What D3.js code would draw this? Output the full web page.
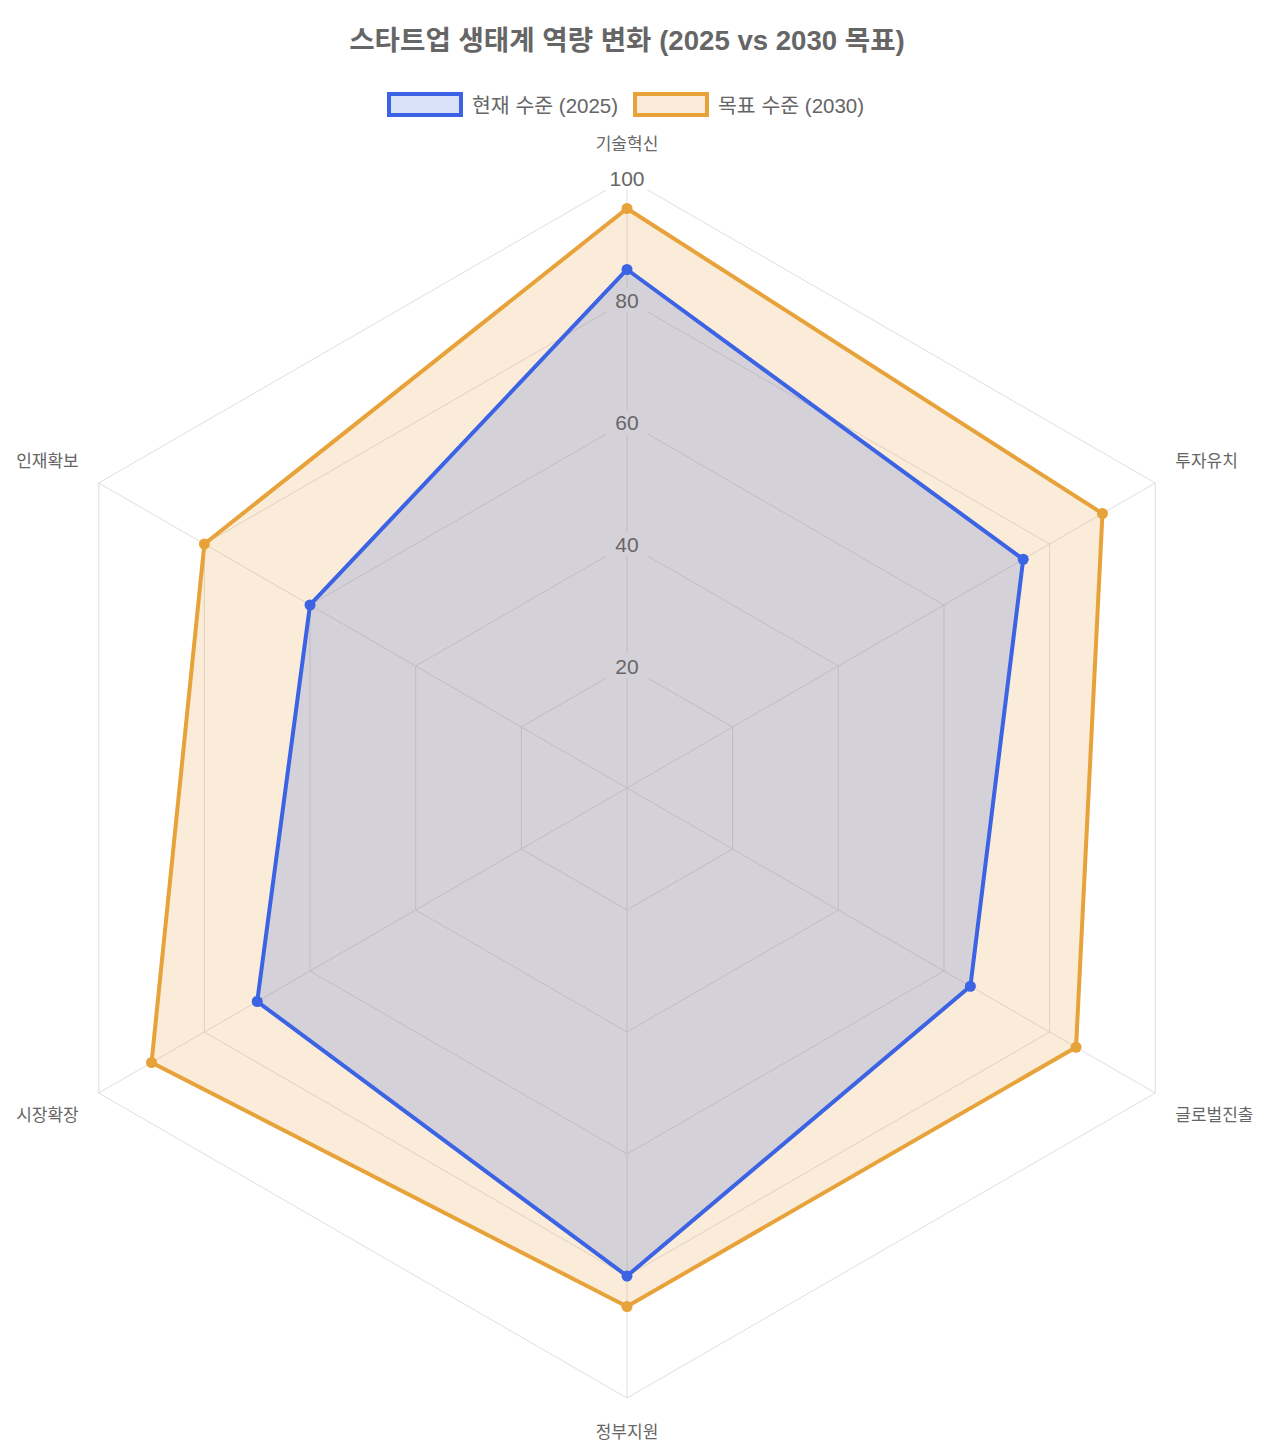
<!DOCTYPE html>
<html lang="ko">
<head>
<meta charset="utf-8">
<script src="https://cdn.jsdelivr.net/npm/d3@7"></script>
<style>
  html, body { margin: 0; padding: 0; background: #fff; }
  svg { display: block; }
  text { font-family: "Liberation Sans", Arial, "Noto Sans CJK KR", sans-serif; }
</style>
</head>
<body>
<svg id="chart" width="1280" height="1450"></svg>
<script>
// Capability axes, clockwise from the top
const categories = ["기술혁신", "투자유치", "글로벌진출", "정부지원", "시장확장", "인재확보"];
const current2025 = [85, 75, 65, 80, 70, 60];
const target2030 = [95, 90, 85, 85, 90, 80];
const tickValues = [20, 40, 60, 80, 100];
const seriesNames = ["현재 수준 (2025)", "목표 수준 (2030)"];
const titleText = "스타트업 생태계 역량 변화 (2025 vs 2030 목표)";

const series = [
  { name: seriesNames[0], values: current2025, stroke: "#3B63E4", fill: "rgba(65,105,225,0.2)" },
  { name: seriesNames[1], values: target2030, stroke: "#E8A23A", fill: "rgba(232,162,58,0.2)" }
];

const svg = d3.select("#chart");
const cx = 627, cy = 788, R = 610;

const r = d3.scaleLinear().domain([0, 100]).range([0, R]);
const angle = d3.scaleLinear().domain([0, categories.length]).range([0, 2 * Math.PI]);

const pt = (i, v) => {
  const a = angle(i);
  return [cx + r(v) * Math.sin(a), cy - r(v) * Math.cos(a)];
};

// Title
svg.append("text")
  .attr("x", cx).attr("y", 40)
  .attr("text-anchor", "middle").attr("dominant-baseline", "central")
  .attr("font-size", 27.6).attr("font-weight", "bold")
  .attr("fill", "#666")
  .text(titleText);

// Legend
const legend = svg.append("g");
const legendItems = [
  { x: 389, s: series[0] },
  { x: 635, s: series[1] }
];
legendItems.forEach(({ x, s }) => {
  legend.append("rect")
    .attr("x", x).attr("y", 94).attr("width", 72).attr("height", 21)
    .attr("fill", s.fill).attr("stroke", s.stroke).attr("stroke-width", 4);
  legend.append("text")
    .attr("x", x + 83).attr("y", 105)
    .attr("dominant-baseline", "central")
    .attr("font-size", 20.5).attr("fill", "#666")
    .text(s.name);
});

// Grid polygons
const gridG = svg.append("g");
tickValues.forEach(t => {
  gridG.append("polygon")
    .attr("points", categories.map((_, i) => pt(i, t).join(",")).join(" "))
    .attr("fill", "none").attr("stroke", "#dedede").attr("stroke-width", 1);
});
// Angle lines
categories.forEach((_, i) => {
  const [x, y] = pt(i, 100);
  gridG.append("line")
    .attr("x1", cx).attr("y1", cy).attr("x2", x).attr("y2", y)
    .attr("stroke", "#dedede").attr("stroke-width", 1);
});

// Tick label backdrops (sit under the filled areas)
const tickG = svg.append("g");
tickValues.forEach(t => {
  tickG.append("rect")
    .attr("x", cx - 21).attr("y", cy - r(t) - 12)
    .attr("width", 42).attr("height", 24)
    .attr("fill", "#fff");
});

// Series areas: target first, current on top
const lineGen = d3.line().curve(d3.curveLinearClosed);
[series[1], series[0]].forEach(s => {
  const pts = s.values.map((v, i) => pt(i, v));
  const g = svg.append("g");
  g.append("path")
    .attr("d", lineGen(pts))
    .attr("fill", s.fill)
    .attr("stroke", s.stroke).attr("stroke-width", 4)
    .attr("stroke-linejoin", "miter");
  g.selectAll("circle").data(pts).join("circle")
    .attr("cx", d => d[0]).attr("cy", d => d[1])
    .attr("r", 5.5).attr("fill", s.stroke);
});

// Tick labels
tickValues.forEach(t => {
  svg.append("text")
    .attr("x", cx).attr("y", cy - r(t))
    .attr("text-anchor", "middle").attr("dominant-baseline", "central")
    .attr("font-size", 21).attr("fill", "#666")
    .text(t);
});

// Point labels
categories.forEach((c, i) => {
  const [vx, vy] = pt(i, 100);
  const a = angle(i);
  const s = Math.sin(a), co = Math.cos(a);
  let x, y, anchor;
  if (Math.abs(s) < 1e-6) {
    x = vx; anchor = "middle";
    y = co > 0 ? vy - 34 : vy + 34;
  } else {
    anchor = s > 0 ? "start" : "end";
    x = vx + (s > 0 ? 20 : -20);
    y = vy + (co > 0 ? -22 : 22);
  }
  svg.append("text")
    .attr("x", x).attr("y", y)
    .attr("text-anchor", anchor).attr("dominant-baseline", "central")
    .attr("font-size", 17).attr("fill", "#666")
    .text(c);
});
</script>
</body>
</html>
